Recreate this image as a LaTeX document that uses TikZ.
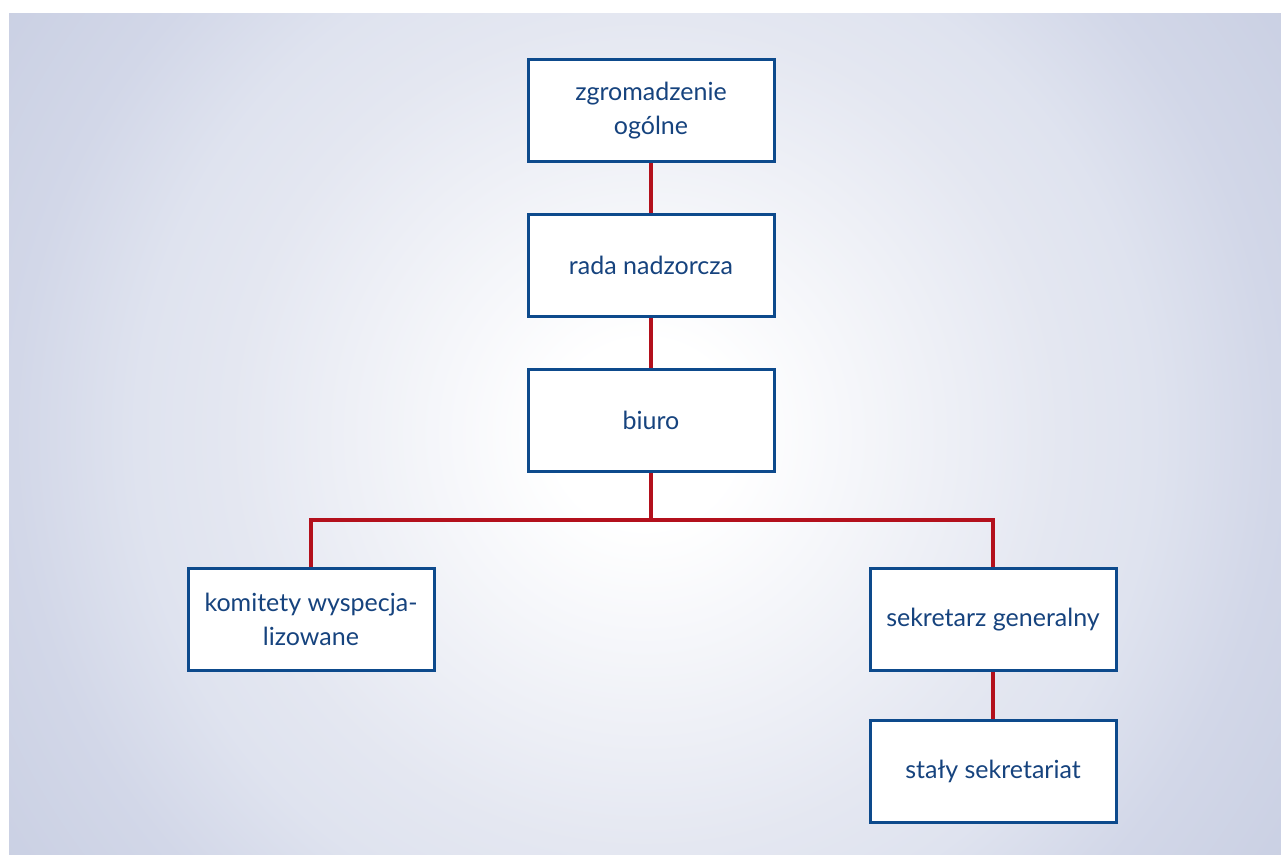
\documentclass[tikz,border=0pt]{standalone}
\usepackage{fontspec}
\setmainfont{Lato}
\usetikzlibrary{positioning,calc,backgrounds}

\definecolor{boxblue}{HTML}{0D4A8C}
\definecolor{textblue}{HTML}{16437E}
\definecolor{linkred}{HTML}{B3101C}
\definecolor{bgmid}{HTML}{E4E7F1}
\definecolor{bgfar}{HTML}{DFE3EF}
\definecolor{bgedge}{HTML}{D2D7E8}
\definecolor{bgcorner}{HTML}{CAD0E3}

% the path box is the middle 50bp square of the shading
\pgfdeclareradialshading{bgglow}{\pgfpoint{0bp}{0bp}}{%
  color(0bp)=(white); color(3bp)=(white);
  color(13.5bp)=(bgmid); color(16.5bp)=(bgfar);
  color(20.5bp)=(bgedge); color(25bp)=(bgcorner); color(50bp)=(bgcorner)}

\begin{document}
\begin{tikzpicture}[
    x=0.5pt, y=-0.5pt,
    font=\fontsize{12.5}{17}\selectfont,
    unit/.style={
      rectangle,
      draw=boxblue,
      line width=1.5pt,
      fill=white,
      text=textblue,
      align=center,
      minimum width=123pt,
      minimum height=51pt,
      inner sep=2pt,
    },
    link/.style={linkred, line width=2pt},
  ]
    \useasboundingbox (0,0) rectangle (1281,855);

    % tree of units
    \node[unit] (Assembly) at (651,110.5) {zgromadzenie\\ogólne};
    \node[unit, below=25pt of Assembly] (Board) {rada nadzorcza};
    \node[unit, below=25pt of Board] (Office) {biuro};
    \node[unit, below=47pt of Office, xshift=-170pt] (Committees) {komitety wyspecja-\\lizowane};
    \node[unit, below=47pt of Office, xshift=171pt] (SecGen) {sekretarz generalny};
    \node[unit, below=23.5pt of SecGen] (Secretariat) {stały sekretariat};

    \coordinate (Fork) at ([yshift=-23.5pt]Office.south);

    \begin{scope}[on background layer]
      \begin{scope}
        \clip (9,14) rectangle (1290,864);
        \shade[shading=bgglow] (645,434) circle[radius=770];
      \end{scope}
      \draw[link] (Assembly) -- (Board);
      \draw[link] (Board) -- (Office);
      \draw[link] (Office) -- (Fork);
      \draw[link] (Committees.north) |- (Fork) -| (SecGen.north);
      \draw[link] (SecGen) -- (Secretariat);
    \end{scope}
  \end{tikzpicture}
\end{document}
